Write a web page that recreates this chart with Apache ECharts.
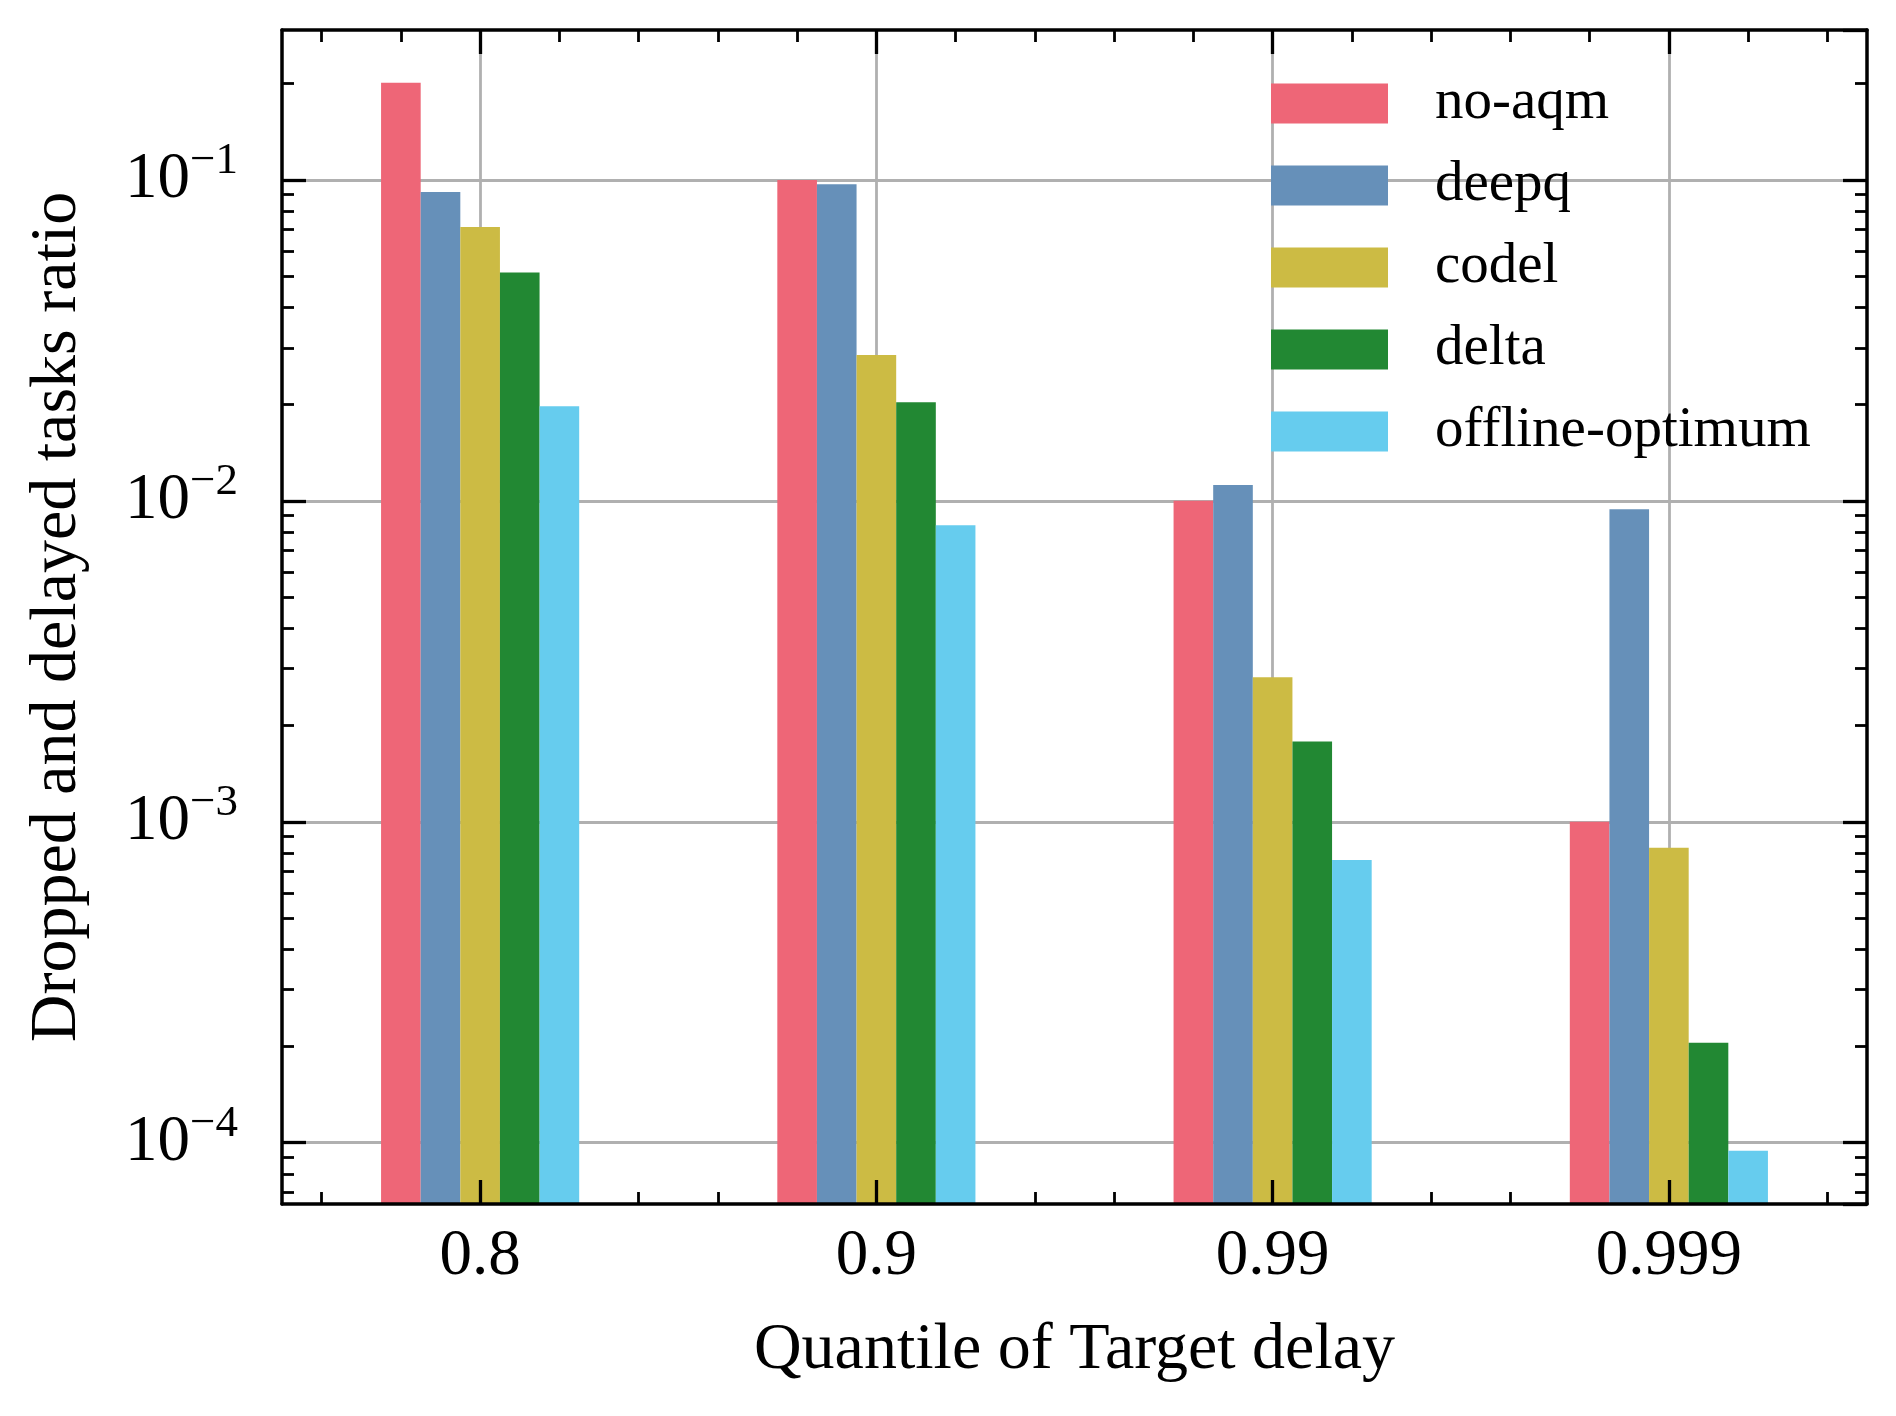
<!DOCTYPE html>
<html>
<head>
<meta charset="utf-8">
<script src="https://cdn.jsdelivr.net/npm/echarts@6/dist/echarts.min.js"></script>
<style>html,body{margin:0;padding:0;background:#fff}#c{width:1896px;height:1416px}</style>
</head>
<body>
<div id="c"></div>
<script>
const categories = ['0.8', '0.9', '0.99', '0.999'];
const seriesNames = ['no-aqm', 'deepq', 'codel', 'delta', 'offline-optimum'];
const noAqm   = [0.201, 0.100, 0.0100, 0.00100];
const deepq   = [0.0917, 0.0970, 0.0112, 0.00942];
const codel   = [0.0713, 0.0285, 0.00282, 0.00083];
const delta   = [0.0515, 0.0203, 0.00178, 0.000205];
const offline = [0.0197, 0.0084, 0.00076, 0.0000944];
const colors = ['#EE6677', '#6690B9', '#CCBB44', '#228833', '#66CCEE'];
const yMin = 6.44e-5;
const yMax = 0.2933;
const yMinorTicks = [7e-5, 8e-5, 9e-5,
  2e-4, 3e-4, 4e-4, 5e-4, 6e-4, 7e-4, 8e-4, 9e-4,
  2e-3, 3e-3, 4e-3, 5e-3, 6e-3, 7e-3, 8e-3, 9e-3,
  2e-2, 3e-2, 4e-2, 5e-2, 6e-2, 7e-2, 8e-2, 9e-2,
  2e-1];
const xMajorTicks = [0, 1, 2, 3];
const xMinorTicks = [-0.4, -0.2, 0.2, 0.4, 0.6, 0.8, 1.2, 1.4, 1.6, 1.8, 2.2, 2.4, 2.6, 2.8, 3.2, 3.4];

const FONT = 'Liberation Serif';
const seriesValues = [noAqm, deepq, codel, delta, offline];

const chart = echarts.init(document.getElementById('c'), null, {renderer: 'canvas'});

const frameLine = {show: true, onZero: false, lineStyle: {color: '#000', width: 3.5}};
const hiddenLine = {show: false, onZero: false};
const majorTick = {show: true, inside: true, length: 24, lineStyle: {color: '#000', width: 3.3}};
const minorTickStyle = {show: true, inside: true, length: 12, lineStyle: {color: '#000', width: 2.8}};
const gridStyle = {color: '#b0b0b0', width: 2.8};

// hidden helper axes measured in log10 units, used only to place the minor ticks of the log axis
const logMin = Math.log10(yMin);
const logMax = Math.log10(yMax);
const yMinorLog = yMinorTicks.map(function (v) { return Math.log10(v); });

function minorXAxis(pos) {
  return {
    type: 'value', min: -0.5, max: 3.5, position: pos,
    axisLine: hiddenLine,
    axisLabel: {show: false},
    axisTick: Object.assign({customValues: xMinorTicks}, minorTickStyle),
    splitLine: {show: false}
  };
}
function minorYAxis(pos) {
  return {
    type: 'value', min: logMin, max: logMax, position: pos,
    axisLine: hiddenLine,
    axisLabel: {show: false},
    axisTick: Object.assign({customValues: yMinorLog}, minorTickStyle),
    splitLine: {show: false}
  };
}

const option = {
  animation: false,
  backgroundColor: '#ffffff',
  grid: {left: 282, right: 29, top: 30, bottom: 212, containLabel: false},
  legend: {
    orient: 'vertical',
    left: 1266,
    top: 70,
    itemWidth: 117,
    itemHeight: 40,
    itemGap: 25,
    icon: 'rect',
    data: seriesNames,
    textStyle: {fontFamily: FONT, fontSize: 57, color: '#000', padding: [0, 0, 0, 42]}
  },
  xAxis: [
    {
      type: 'category', data: categories, position: 'bottom', z: 5,
      axisLine: frameLine,
      axisTick: Object.assign({alignWithLabel: true}, majorTick),
      axisLabel: {fontFamily: FONT, fontSize: 65, color: '#000', margin: 20},
      splitLine: {show: false},
      name: 'Quantile of Target delay', nameLocation: 'middle', nameGap: 114,
      nameTextStyle: {fontFamily: FONT, fontSize: 66, color: '#000'}
    },
    {
      type: 'value', min: -0.5, max: 3.5, splitNumber: 4, position: 'bottom',
      axisLine: hiddenLine,
      axisLabel: {show: false},
      axisTick: {show: false, customValues: xMajorTicks},
      splitLine: {show: true, lineStyle: gridStyle}
    },
    {
      type: 'category', data: categories, position: 'top', z: 5,
      axisLine: frameLine,
      axisTick: Object.assign({alignWithLabel: true}, majorTick),
      axisLabel: {show: false},
      splitLine: {show: false}
    },
    minorXAxis('bottom'),
    minorXAxis('top')
  ],
  yAxis: [
    {
      type: 'log', logBase: 10, min: yMin, max: yMax, startValue: yMin, position: 'left',
      axisLine: frameLine,
      axisTick: majorTick,
      axisLabel: {
        showMinLabel: false, showMaxLabel: false, margin: 44, color: '#000',
        formatter: function (v) {
          const e = Math.round(Math.log10(v));
          return '{b|10}{s|\u2212' + (-e) + '}';
        },
        rich: {
          b: {fontFamily: FONT, fontSize: 65, lineHeight: 82, color: '#000'},
          s: {fontFamily: FONT, fontSize: 45, lineHeight: 45, color: '#000', verticalAlign: 'top'}
        }
      },
      splitLine: {show: true, showMinLine: false, showMaxLine: false, lineStyle: gridStyle},
      name: 'Dropped and delayed tasks ratio', nameLocation: 'middle', nameGap: 191, nameRotate: 90,
      nameTextStyle: {fontFamily: FONT, fontSize: 66, color: '#000'}
    },
    {
      type: 'log', logBase: 10, min: yMin, max: yMax, position: 'right',
      axisLine: frameLine,
      axisTick: majorTick,
      axisLabel: {show: false},
      splitLine: {show: false}
    },
    minorYAxis('left'),
    minorYAxis('right')
  ],
  series: seriesNames.map(function (name, i) {
    return {
      name: name,
      type: 'bar',
      xAxisIndex: 0,
      yAxisIndex: 0,
      data: seriesValues[i],
      barGap: '0%',
      barCategoryGap: '50%',
      itemStyle: {color: colors[i]}
    };
  })
};
chart.setOption(option);
</script>
</body>
</html>
